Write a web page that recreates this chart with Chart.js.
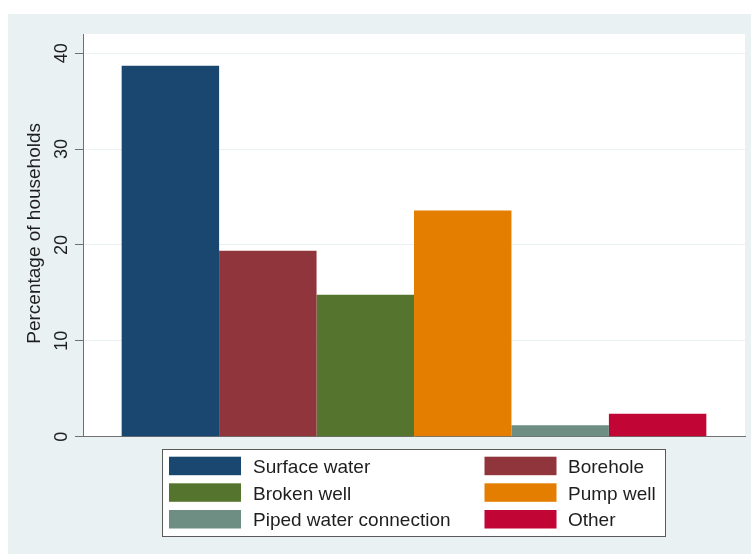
<!DOCTYPE html>
<html>
<head>
<meta charset="utf-8">
<title>Source of drinking water</title>
<script src="https://cdn.jsdelivr.net/npm/chart.js@4"></script>
<style>
  html, body { margin: 0; padding: 0; background: #ffffff; }
  #frame {
    position: absolute; left: 8px; top: 14px;
    width: 743px; height: 540px;
    background: #eaf1f3;
  }
  #chart { display: block; }
</style>
</head>
<body>
<div id="frame"><canvas id="chart" width="743" height="540"></canvas></div>
<script>
// Main source of drinking water, share of households (%)
const sources = ['Surface water', 'Borehole', 'Broken well', 'Pump well', 'Piped water connection', 'Other'];
const shares = [38.7, 19.4, 14.8, 23.6, 1.2, 2.4];
const colors = ['#1a476f', '#90353b', '#55752f', '#e37e00', '#6e8e84', '#c10534'];
const yTicks = [0, 10, 20, 30, 40];
const yTitle = 'Percentage of households';

const FONT = "'Liberation Sans', Arial, Helvetica, sans-serif";
const AXIS_GREY = '#707070';

// White plot region behind the bars
const plotBackground = {
  id: 'plotBackground',
  beforeDraw(chart) {
    const { ctx, chartArea: a } = chart;
    ctx.save();
    ctx.fillStyle = '#ffffff';
    ctx.fillRect(a.left, a.top, a.right - a.left, a.bottom - a.top);
    ctx.restore();
  }
};

// Vertical tick labels and axis title on the left
const verticalLabels = {
  id: 'verticalLabels',
  afterDraw(chart) {
    const { ctx, chartArea: a } = chart;
    const y = chart.scales.y;
    ctx.save();
    ctx.fillStyle = '#1e1e1e';
    ctx.textAlign = 'center';
    ctx.textBaseline = 'alphabetic';
    ctx.font = '18px ' + FONT;
    y.ticks.forEach(t => {
      const py = y.getPixelForValue(t.value);
      ctx.save();
      ctx.translate(58.5, py);
      ctx.rotate(-Math.PI / 2);
      ctx.fillText(String(t.value), 0, 0);
      ctx.restore();
    });
    ctx.font = '19px ' + FONT;
    ctx.save();
    ctx.translate(32, (a.top + a.bottom) / 2 - 2);
    ctx.rotate(-Math.PI / 2);
    ctx.fillText(yTitle, 0, 0);
    ctx.restore();
    ctx.restore();
  }
};

// Boxed two-column legend under the plot
const boxLegend = {
  id: 'boxLegend',
  afterDraw(chart) {
    const { ctx } = chart;
    const box = { x: 154, y: 435, w: 504, h: 88 };
    ctx.save();
    ctx.fillStyle = '#ffffff';
    ctx.fillRect(box.x, box.y, box.w, box.h);
    ctx.strokeStyle = '#5a5a5a';
    ctx.lineWidth = 1;
    ctx.strokeRect(box.x + 0.5, box.y + 0.5, box.w - 1, box.h - 1);
    const swatchX = [161, 476.5];
    const textX = [245, 560];
    const rowY = [442.7, 469.3, 496];
    ctx.font = '19px ' + FONT;
    ctx.textAlign = 'left';
    ctx.textBaseline = 'alphabetic';
    chart.data.datasets.forEach((ds, i) => {
      const col = i % 2, row = Math.floor(i / 2);
      ctx.fillStyle = ds.backgroundColor;
      ctx.fillRect(swatchX[col], rowY[row], 72, 18.5);
      ctx.fillStyle = '#1e1e1e';
      ctx.fillText(ds.label, textX[col], rowY[row] + 16.3);
    });
    ctx.restore();
  }
};

const chart = new Chart(document.getElementById('chart'), {
  type: 'bar',
  data: {
    labels: [''],
    datasets: sources.map((s, i) => ({
      label: s,
      data: [shares[i]],
      backgroundColor: colors[i],
      borderWidth: 0
    }))
  },
  options: {
    responsive: false,
    animation: false,
    events: [],
    categoryPercentage: 0.8832,
    barPercentage: 1.0,
    layout: { padding: { top: 20, right: 6, bottom: 0, left: 0 } },
    plugins: {
      legend: { display: false },
      tooltip: { enabled: false }
    },
    scales: {
      x: {
        type: 'category',
        offset: true,
        grid: { display: false },
        ticks: { display: false },
        border: { display: true, color: AXIS_GREY, width: 1 },
        afterFit(scale) { scale.height = 117.3; }
      },
      y: {
        min: 0,
        max: 42,
        ticks: { display: false, stepSize: 10, includeBounds: false },
        afterBuildTicks(scale) { scale.ticks = yTicks.map(v => ({ value: v })); },
        grid: {
          color: '#eaf1f3',
          lineWidth: 1,
          drawTicks: true,
          tickLength: 8,
          tickColor: AXIS_GREY,
          tickWidth: 1
        },
        border: { display: true, color: AXIS_GREY, width: 1 },
        afterFit(scale) { scale.width = 75; }
      }
    }
  },
  plugins: [plotBackground, verticalLabels, boxLegend]
});
</script>
</body>
</html>
